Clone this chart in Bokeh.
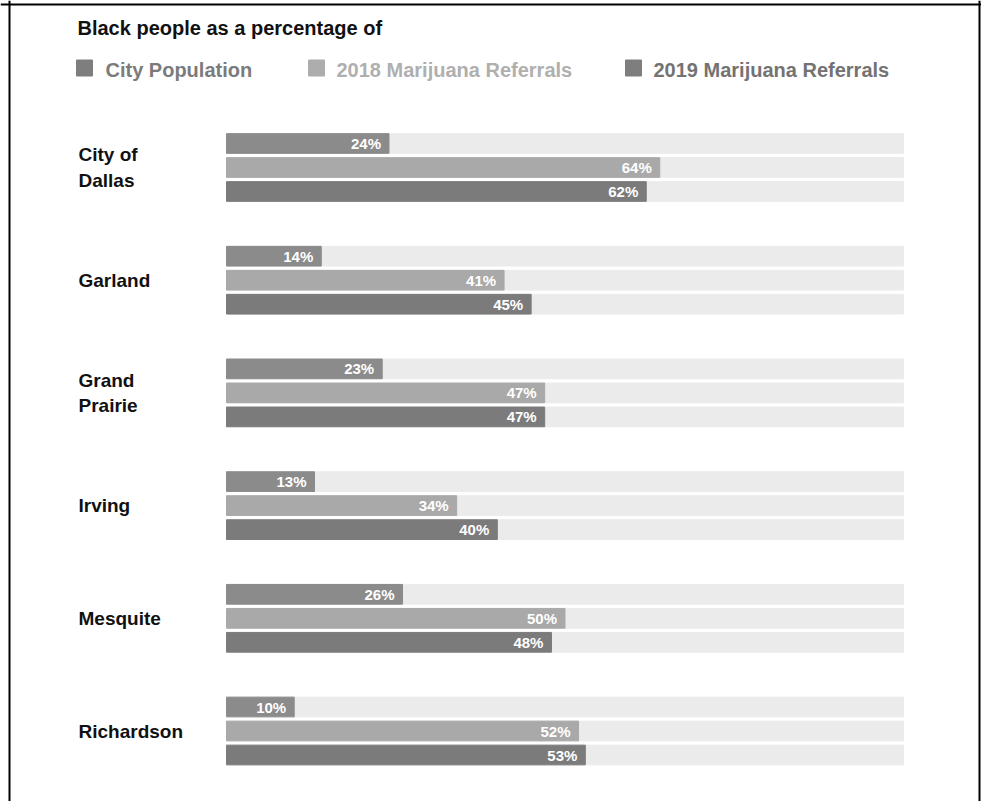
from bokeh.plotting import figure
from bokeh.models import Range1d, Span, ColumnDataSource
from bokeh.core.properties import value
from bokeh.embed import file_html
from bokeh.resources import INLINE

# ---- data ----
cities = ["City of\nDallas", "Garland", "Grand\nPrairie", "Irving", "Mesquite", "Richardson"]
city_population = [24, 14, 23, 13, 26, 10]
referrals_2018 = [64, 41, 47, 34, 50, 52]
referrals_2019 = [62, 45, 47, 40, 48, 53]
series_names = ["City Population", "2018 Marijuana Referrals", "2019 Marijuana Referrals"]
title_text = "Black people as a percentage of"

# ---- styles / layout ----
FONT = value("Liberation Sans")
BAR_COLORS = ["#8b8b8b", "#a9a9a9", "#7b7b7b"]
SWATCH_COLORS = ["#7e7e7e", "#adadad", "#7e7e7e"]
LEGEND_TEXT_COLORS = ["#7b7b7b", "#afafaf", "#737373"]
TRACK_COLOR = "#ebebeb"

W, H = 981, 801
PX_PER_X = 6.77          # px per percent
ZERO_PX = 226            # frame px of 0%
PX_PER_GROUP = 112.7
GROUP0_PX = 167          # frame px of first group centre
X0 = -ZERO_PX / PX_PER_X
X1 = X0 + W / PX_PER_X
Y_TOP = -GROUP0_PX / PX_PER_GROUP
Y_BOT = Y_TOP + H / PX_PER_GROUP
BAR_OFF = 24 / PX_PER_GROUP
BAR_H = 19.7 / PX_PER_GROUP


def dx(px):
    return X0 + px / PX_PER_X


def dy(py):
    return Y_TOP + py / PX_PER_GROUP


p = figure(width=W, height=H, x_range=Range1d(X0, X1), y_range=Range1d(Y_BOT, Y_TOP),
           x_axis_type=None, y_axis_type=None, output_backend="svg",
           toolbar_location=None, min_border=0, outline_line_color=None,
           background_fill_color="white", border_fill_color="white")
p.grid.visible = False

n = len(cities)
series = [city_population, referrals_2018, referrals_2019]
for k, vals in enumerate(series):
    ys = [g + (k - 1) * BAR_OFF for g in range(n)]
    p.hbar(y=ys, left=0, right=[100] * n, height=BAR_H, color=TRACK_COLOR)
    src = ColumnDataSource(dict(y=ys, v=vals, lab=[f"{v}%" for v in vals]))
    p.hbar(y="y", left=0, right="v", height=BAR_H, color=BAR_COLORS[k], source=src)
    p.text(x="v", y="y", text="lab", source=src, x_offset=-8, text_align="right",
           text_baseline="middle", text_color="white", text_font=FONT,
           text_font_size="15px", text_font_style="bold")

# city labels
p.text(x=[dx(78)] * n, y=list(range(n)), text=cities, text_align="left",
       text_baseline="middle", text_color="#111111", text_font=FONT,
       text_font_size="19px", text_font_style="bold", text_line_height=1.2)

# title
p.text(x=[dx(77)], y=[dy(27)], text=[title_text], text_align="left",
       text_baseline="middle", text_color="#111111", text_font=FONT,
       text_font_size="20px", text_font_style="bold")

# legend
sw_px = [84, 316, 633]
txt_px = [105, 336, 653]
p.rect(x=[dx(v) for v in sw_px], y=[dy(67.5)] * 3, width=16, height=16,
       width_units="screen", height_units="screen", color=SWATCH_COLORS)
for k in range(3):
    p.text(x=[dx(txt_px[k])], y=[dy(69)], text=[series_names[k]], text_align="left",
           text_baseline="middle", text_color=LEGEND_TEXT_COLORS[k], text_font=FONT,
           text_font_size="20px", text_font_style="bold")

# frame border (left, top, right)
p.add_layout(Span(location=dx(9), dimension="height", line_color="black", line_width=2))
p.add_layout(Span(location=dy(4), dimension="width", line_color="black", line_width=2))
p.add_layout(Span(location=dx(979), dimension="height", line_color="black", line_width=2))

open("out.html", "w").write(file_html(p, INLINE))
